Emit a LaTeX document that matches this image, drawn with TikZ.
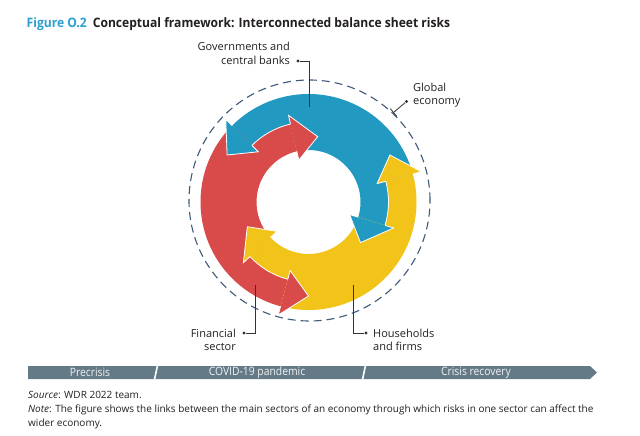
\documentclass[tikz,border=0pt]{standalone}
\usepackage{fontspec}
\setmainfont{Open Sans}
\newfontfamily\condfont[FakeStretch=0.93]{Open Sans}
\newfontfamily\barfont[FakeStretch=0.9]{Open Sans}
\newfontfamily\labelfont{Open Sans}
\usetikzlibrary{calc}
\definecolor{ringblue}{HTML}{2299C0}
\definecolor{ringred}{HTML}{D94B4B}
\definecolor{ringyellow}{HTML}{F2C319}
\definecolor{titleblue}{HTML}{2A9FD0}
\definecolor{dashcol}{HTML}{3F5A7A}
\definecolor{barcol}{HTML}{657A87}
\definecolor{leadgray}{HTML}{333333}
\definecolor{txtgray}{HTML}{231F20}
\begin{document}
\begin{tikzpicture}[x=1pt,y=-1pt,
  lbl/.style={font=\labelfont\fontsize{11}{13.5}\selectfont, text=txtgray, inner sep=0pt},
  leader/.style={draw=leadgray, line width=0.8pt},
  dotend/.style={circle, fill=leadgray, inner sep=0pt, minimum size=3.2pt},
  headline/.style={draw=white, line width=0.8pt, line join=miter},
  bartxt/.style={font=\barfont\fontsize{11.5}{13}\selectfont, text=white!90!barcol, inner sep=0pt},
  notetxt/.style={font=\labelfont\fontsize{10}{14}\selectfont, text=txtgray, inner sep=0pt, align=left}]
\useasboundingbox (0,0) rectangle (640,436);
\fill[white] (0,0) rectangle (640,436);

% title
\node[anchor=base west, inner sep=0pt, text=txtgray,
      font=\condfont\bfseries\fontsize{13}{15}\selectfont] (title) at (26.5,27.3)
  {\textcolor{titleblue}{Figure O.2}\hspace{6pt}Conceptual framework: Interconnected balance sheet risks};

% dashed circle (global economy)
\draw[dashcol, line width=1.1pt, dash pattern=on 8pt off 5pt] (309.5,200.5) circle[radius=120.5pt];

% ring
\begin{scope}[shift={(308.5,202)}]
  \foreach \col/\rot in {ringblue/0, ringred/120, ringyellow/240}{
    \begin{scope}[rotate=\rot]
      \fill[\col] (15:108pt) arc[start angle=15,end angle=135,radius=108pt]
        -- (135:80pt) arc[start angle=135,end angle=103,radius=80pt]
        -- (103:52pt) arc[start angle=103,end angle=-17,radius=52pt]
        -- (-17:80pt) arc[start angle=-17,end angle=15,radius=80pt] -- cycle;
    \end{scope}
  }
  \foreach \rot in {0,120,240}{
    \begin{scope}[rotate=\rot]
      \draw[white, line width=0.8pt] (-17:80pt) arc[start angle=-17,end angle=15,radius=80pt];
    \end{scope}
  }
  \foreach \col/\rot in {ringblue/0, ringred/120, ringyellow/240}{
    \begin{scope}[rotate=\rot]
      \fill[\col] (135:71pt) -- (150:94pt) -- (135:117pt) -- cycle;
      \draw[headline] (135:80pt) -- (135:71pt) -- (150:94pt) -- (135:117pt) -- (135:108pt);
      \fill[\col] (-17:43pt) -- (-38:66pt) -- (-17:89pt) -- cycle;
      \draw[headline] (-17:52pt) -- (-17:43pt) -- (-38:66pt) -- (-17:89pt) -- (-17:80pt);
    \end{scope}
  }
\end{scope}

% labels and leaders
\node[lbl, align=right, anchor=north east] (gov) at (290,42.2) {Governments and\\central banks};
\node[dotend] (gdot) at (298,61) {};
\coordinate (gbend) at (309.5,61);
\coordinate (gend) at (309.5,107);
\draw[leader] (gdot) -- (gbend) -- (gend);

\node[lbl, align=left, anchor=north west] (glob) at (413,82.5) {Global\\economy};
\node[dotend] (edot) at (406.5,101.5) {};
\coordinate (eend) at (393.5,112.5);
\draw[leader] (edot) -- (eend);
\draw[leader] ($(eend)+(-3.2,-3.8)$) -- ($(eend)+(3.2,3.8)$);

\node[lbl, align=right, anchor=north east] (fin) at (236,328.8) {Financial\\sector};
\node[dotend] (fdot) at (244,333) {};
\coordinate (fend) at (255,285);
\coordinate (fbend) at (255,333);
\draw[leader] (fend) -- (fbend) -- (fdot);

\node[lbl, align=left, anchor=north west] (hh) at (373,328.8) {Households\\and firms};
\node[dotend] (hdot) at (366,333) {};
\coordinate (hend) at (353,285);
\coordinate (hbend) at (353,333);
\draw[leader] (hend) -- (hbend) -- (hdot);

% timeline bar
\fill[barcol] (28,366) -- (590,366) -- (597,372.5) -- (590,379) -- (28,379) -- cycle;
\draw[white, line width=1.6pt] (157.5,365.5) -- (154.5,379.5);
\draw[white, line width=1.6pt] (365.5,365.5) -- (362.5,379.5);
\node[bartxt] (pre) at (90,372.5) {Precrisis};
\node[bartxt] (cov) at (257,372.5) {COVID-19 pandemic};
\node[bartxt] (rec) at (476,372.5) {Crisis recovery};

% notes
\node[notetxt, anchor=base west] (src) at (28,398.5) {\textit{Source}: WDR 2022 team.};
\node[notetxt, anchor=north west] (note) at (28,404.5) {\textit{Note}: The figure shows the links between the main sectors of an economy through which risks in one sector can affect the\\wider economy.};
\end{tikzpicture}
\end{document}
